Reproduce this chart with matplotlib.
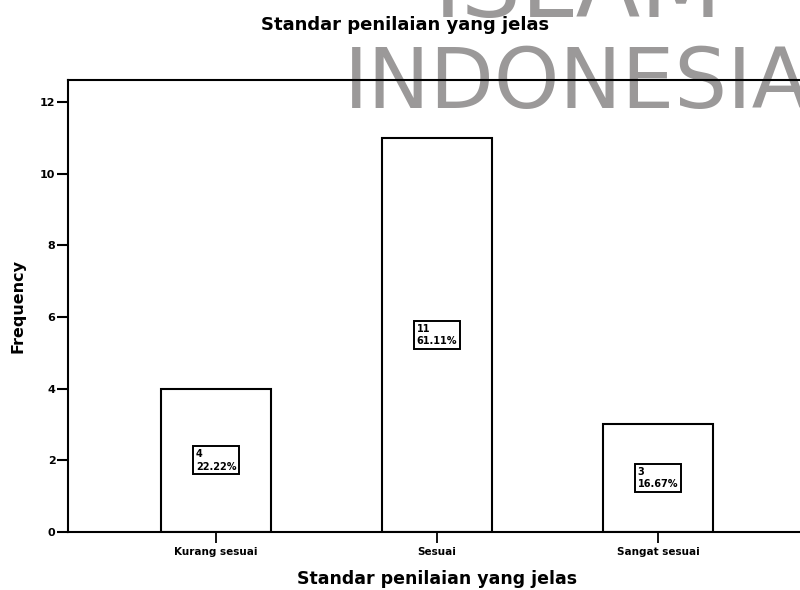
import matplotlib; matplotlib.use("Agg")
import matplotlib.pyplot as plt

plt.rcParams["font.family"] = "DejaVu Sans"
plt.rcParams["font.weight"] = "bold"

CATEGORIES = ["Kurang sesuai", "Sesuai", "Sangat sesuai"]
COUNTS = [4, 11, 3]
PERCENTS = [22.22, 61.11, 16.67]
Y_TICKS = [0, 2, 4, 6, 8, 10, 12]

TITLE = "Standar penilaian yang jelas"
WM_GRAY = "#9b9999"

W, H = 800, 590
fig = plt.figure(figsize=(W/100, H/100), dpi=100)

# watermark (behind the chart)
fig.text(434/W, 1 - 17/H, "ISLAM", fontsize=68, fontweight="normal",
         color=WM_GRAY, ha="left", va="baseline", zorder=-5)
fig.text(344/W, 1 - 108/H, "INDONESIA", fontsize=60, fontweight="normal",
         color=WM_GRAY, ha="left", va="baseline", zorder=-5)

ax = fig.add_axes([68/W, 1 - 532/H, 738/W, 452/H])
ax.set_facecolor("none")

x = list(range(len(CATEGORIES)))
ax.bar(x, COUNTS, width=0.5, color="white", edgecolor="black", linewidth=1.5, zorder=2)

for xi, c, p in zip(x, COUNTS, PERCENTS):
    ax.text(xi, c / 2, f"{c}\n{p:.2f}%", ha="center", va="center",
            multialignment="left", fontsize=7, linespacing=1.3, zorder=3,
            bbox=dict(boxstyle="square,pad=0.3", fc="white", ec="black", lw=1.4))

ax.set_xlim(-0.67, 2.67)
ax.set_ylim(0, 12.61)
ax.set_xticks(x)
ax.set_xticklabels(CATEGORIES, fontsize=7.5)
ax.set_yticks(Y_TICKS)
ax.set_yticklabels([str(v) for v in Y_TICKS], fontsize=8)
ax.tick_params(axis="y", direction="out", length=8, width=1.5, pad=1)
ax.tick_params(axis="x", direction="out", length=8, width=1.3, pad=3)

for s in ax.spines.values():
    s.set_linewidth(1.5)
    s.set_color("black")

ax.set_xlabel(TITLE, fontsize=12.5, fontweight="bold")
ax.xaxis.set_label_coords(0.5, -0.085)
ax.set_ylabel("Frequency", fontsize=11.5, fontweight="bold")
ax.yaxis.set_label_coords(-0.057, 0.5)

fig.text(405/W, 1 - 25/H, TITLE, fontsize=13, ha="center", va="center")

fig.savefig("out.png", dpi=100, facecolor="white")
